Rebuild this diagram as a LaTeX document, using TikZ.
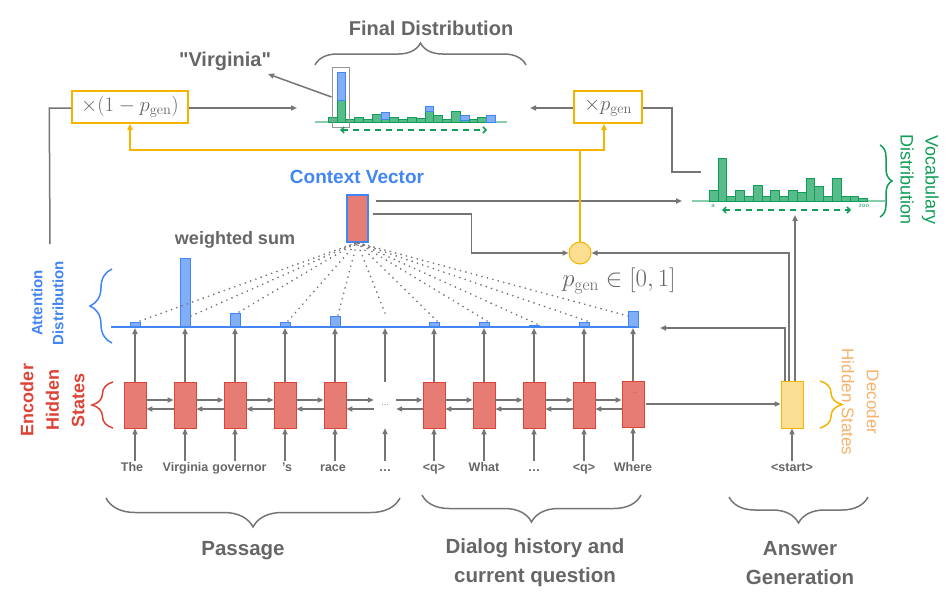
\documentclass[tikz,border=0pt]{standalone}
\usepackage[no-math]{fontspec}
\setmainfont{Liberation Sans}
\newfontfamily\plainquote{Liberation Sans}[Ligatures=TeXOff]
\usetikzlibrary{arrows.meta,decorations.pathreplacing,calc}
\definecolor{tgray}{RGB}{102,102,102}
\definecolor{lgray}{RGB}{117,117,117}
\definecolor{selgray}{RGB}{150,150,150}
\definecolor{encred}{RGB}{230,124,115}
\definecolor{encredb}{RGB}{219,68,55}
\definecolor{gblue}{RGB}{66,133,244}
\definecolor{lblue}{RGB}{130,174,247}
\definecolor{ggreen}{RGB}{15,157,88}
\definecolor{lgreen}{RGB}{87,187,138}
\definecolor{lgreenline}{RGB}{135,206,170}
\definecolor{gyellow}{RGB}{244,180,0}
\definecolor{lyellow}{RGB}{250,222,145}
\definecolor{orangetxt}{RGB}{246,178,107}
\begin{document}
\begin{tikzpicture}[x=1pt,y=-1pt,
  garrow/.style={draw=lgray, line width=1.5pt, -{Triangle[length=6pt,width=5pt]}},
  gline/.style={draw=lgray, line width=1.5pt},
  yline/.style={draw=gyellow, line width=1.5pt},
  yarrow/.style={draw=gyellow, line width=1.5pt, -{Triangle[length=6pt,width=5pt]}},
  encbox/.style={rectangle, draw=encredb, fill=encred, minimum width=22pt, minimum height=46pt, inner sep=0pt, line width=0.8pt},
  decbox/.style={rectangle, draw=gyellow, fill=lyellow, minimum width=22pt, minimum height=47pt, inner sep=0pt, line width=0.8pt},
  cvbox/.style={rectangle, draw=gblue, fill=encred, minimum width=21pt, minimum height=47pt, inner sep=0pt, line width=2pt},
  mbox/.style={rectangle, draw=gyellow, fill=white, line width=1.5pt, minimum height=32pt, inner sep=0pt, text=tgray, font=\fontsize{20}{22}\selectfont},
  word/.style={font=\fontsize{12.5}{15}\selectfont\bfseries, text=tgray, inner sep=1pt, text height=9.5pt, text depth=3pt},
  gtitle/.style={font=\fontsize{20}{23}\selectfont\bfseries, text=tgray, inner sep=1pt},
  btitle/.style={font=\fontsize{20.5}{29}\selectfont\bfseries, text=tgray, inner sep=1pt, align=center},
  abar/.style={draw=gblue, fill=lblue, line width=1pt},
  vbar/.style={draw=ggreen, fill=lgreen, line width=1pt},
  dotl/.style={draw=lgray, line width=1.9pt, dash pattern=on 0pt off 5.6pt, line cap=round},
  gdash/.style={draw=ggreen, line width=1.5pt, dash pattern=on 6pt off 5pt, {Straight Barb[length=3pt,width=6pt]}-{Straight Barb[length=3pt,width=6pt]}},
  mybrace/.style={decorate, decoration={brace, amplitude=#1}, line width=1.5pt},
  tinyg/.style={font=\fontsize{6}{7}\selectfont\bfseries, text=lgreen, inner sep=0pt}
]
\useasboundingbox (0,0) rectangle (949,613);

% ---------------- encoder ----------------
\foreach \i/\x in {0/135,1/185,2/235,3/285,4/335,6/434,7/484,8/534,9/584}
  \node[encbox] (e\i) at (\x,405) {};
\node[encbox] (e10) at (633,404) {};
\node[font=\fontsize{5}{6}\selectfont, text=encredb!70!black, inner sep=0pt] (lastdots) at (635,393) {…};
\node[minimum width=22pt, minimum height=46pt, inner sep=0pt, font=\fontsize{8}{9}\selectfont, text=tgray] (e5) at (385,405) {…};

\foreach \i/\x/\w in {0/132/The,1/185.5/Virginia,2/239.5/governor,3/287/{’s},4/333/race,5/385/{…},6/434/{<q>},7/484/What,8/534/{…},9/584/{<q>},10/633/Where}
  \node[word] (w\i) at (\x,468.5) {\w};
\node[word] (wst) at (792,468.5) {<start>};

\foreach \i [evaluate=\i as \j using int(\i+1)] in {0,...,9} {
  \draw[garrow] ([yshift=5pt]e\i.east) -- ([yshift=5pt]e\i.east -| e\j.west);
  \draw[garrow] ([yshift=-4pt]e\i.east -| e\j.west) -- ([yshift=-4pt]e\i.east);
}
\coordinate (att) at (0,328);
\foreach \i/\x in {0/135,1/185,2/235,3/285,4/335,5/385,6/434,7/484,8/534,9/584,10/633} {
  \draw[garrow] (w\i.north -| e\i.south) -- (e\i.south);
  \draw[garrow] (e\i.north) -- (e\i.north |- att);
}

% ---------------- decoder ----------------
\node[decbox] (dec) at (792,404.5) {};
\draw[garrow] (wst.north) -- (dec.south);
\draw[garrow] ([xshift=2pt]e10.east) -- (e10.east -| dec.west);

% ---------------- attention ----------------
\coordinate (attL) at (111,327);
\coordinate (attR) at (637,327);
\foreach \x/\t in {135/322,185/258,235/313,285/322,335/316,434/322,484/322,534/325,584/322,633/311}
  \draw[abar] (\x-5,327) rectangle (\x+5,\t);
\draw[draw=gblue, line width=2pt] (attL) -- (attR);

% ---------------- context vector ----------------
\node[cvbox] (cv) at (357,218) {};
\node[font=\fontsize{19}{22}\selectfont\bfseries, text=gblue, inner sep=1pt] (cvt) at (357,177) {Context Vector};
\foreach \x/\y in {140/321,191/316,239/312,288/321,338/315,385/313,437/321,487/321,537/324,587/321,628/316}
  \draw[dotl] (\x,\y) -- (cv.south);
\node[gtitle, font=\fontsize{18}{21}\selectfont\bfseries] (ws) at (235,240) {weighted sum};

% ---------------- p_gen ----------------
\node[circle, draw=gyellow, fill=lyellow, minimum size=22pt, inner sep=0pt, line width=1pt] (pg) at (580,253) {};
\node[fill=white, inner sep=2pt, text=tgray, font=\fontsize{27}{30}\selectfont] (pgl) at (619,281) {$p_{\mathrm{gen}}\in[0,1]$};

\coordinate (vin1) at (682,201);
\coordinate (vin2) at (795,215);
\coordinate (attin) at (660,328);
\draw[garrow] ([xshift=7pt,yshift=17pt]cv.east) -- (vin1);
\draw[garrow] ([xshift=4pt,yshift=4pt]cv.east) -- ++(99,0) |- (pg.west);
\draw[garrow] ([xshift=-7pt]dec.north) |- (attin);
\draw[garrow] ([xshift=-3pt]dec.north) |- (pg.east);
\draw[garrow] ([xshift=3pt]dec.north) -- (vin2);

% ---------------- multiply boxes ----------------
\node[mbox, minimum width=116pt] (m1) at (130,107) {$\times(1-p_{\mathrm{gen}})$};
\node[mbox, minimum width=68pt] (mp) at (608,107) {$\times p_{\mathrm{gen}}$};
\coordinate (yj) at (580,150);
\draw[yline] (pg.north) -- (yj);
\draw[yarrow] (yj) -| (m1.south);
\draw[yarrow] (yj) -| ([xshift=-4pt]mp.south);

\coordinate (fin1) at (297,108);
\coordinate (fin2) at (530,108);
\coordinate (vtop) at (701,172);
\coordinate (attout) at (50,244);
\draw[garrow] ([yshift=-1pt]m1.east) -- (fin1);
\draw[garrow] ([yshift=-1pt]mp.west) -- (fin2);
\draw[gline] ([yshift=-1pt]mp.east) -- ++(29,0) |- (vtop);
\draw[gline] ([yshift=-1pt]m1.west) -- ++(-22,0) -- (attout);

% ---------------- final distribution ----------------
\draw[draw=lgreenline, line width=1.5pt] (315,122) -- (507,122);
\foreach \g/\b [count=\i from 0] in {5/0,22/28,3/0,5/0,3/0,8/0,3/7,5/0,3/0,5/0,4/0,11/5,7/0,3/0,11/0,2/5,3/0,5/0,0/7} {
  \ifnum\g>0 \draw[vbar] (328.3+8.8*\i,122) rectangle ++(8.8,-\g); \fi
  \ifnum\b>0 \draw[abar] (328.3+8.8*\i,122-\g) rectangle ++(8.8,-\b); \fi
}
\node[draw=selgray, line width=1pt, minimum width=17pt, minimum height=60pt, inner sep=0pt] (sel) at (340.5,97) {};
\draw[gdash] (340,130) -- (487,130);
\node[gtitle] (fdt) at (431,28) {Final Distribution};
\draw[mybrace=22pt, draw=lgray] (315,65) -- (526,65);
\node[gtitle] (virg) at (225,61) {\plainquote\bfseries "Virginia"};
\coordinate (virgtip) at (268,74);
\draw[garrow] (sel.west) -- (virgtip);

% ---------------- vocabulary distribution ----------------
\draw[draw=lgreenline, line width=1.5pt] (692,201) -- (885,201);
\foreach \h [count=\i from 0] in {10.7,43,5,11,5,16,5,11,5,11,9,23,15,5,23,5,5,3}
  \draw[vbar] (709.3+8.8*\i,201) rectangle ++(8.8,-\h);
\node[tinyg] (lbla) at (713,206) {a};
\node[tinyg] (lblz) at (864,206) {zoo};
\draw[gdash] (722,210) -- (851,210);
\draw[mybrace=12pt, draw=ggreen] (880,145) -- (880,217);
\node[rotate=-90, align=center, text=ggreen, font=\fontsize{18}{25}\selectfont, inner sep=0pt] (vocl) at (919.5,180) {Vocabulary\\Distribution};

% ---------------- side labels ----------------
\draw[mybrace=22pt, draw=gblue] (112,343) -- (112,269);
\node[rotate=90, align=center, text=gblue, font=\fontsize{15}{21}\selectfont\bfseries, inner sep=0pt] (attl) at (47.5,303) {Attention\\Distribution};
\draw[mybrace=21pt, draw=encredb] (113,428) -- (113,382);
\node[rotate=90, align=center, text=encredb, font=\fontsize{18}{25.5}\selectfont\bfseries, inner sep=0pt] (encl) at (52.5,400) {Encoder\\Hidden\\States};
\draw[mybrace=22pt, draw=gyellow] (820,381) -- (820,428);
\node[rotate=-90, align=center, text=orangetxt, font=\fontsize{17}{25}\selectfont, inner sep=0pt] (decl) at (860.5,402) {Decoder\\Hidden States};

% ---------------- bottom braces ----------------
\draw[mybrace=29pt, draw=lgray] (400,498) -- (106,498);
\draw[mybrace=27pt, draw=lgray] (641,495) -- (422,495);
\draw[mybrace=26pt, draw=lgray] (868,497) -- (729,497);
\node[btitle] (tpass) at (243,551) {Passage};
\node[btitle] (tdial) at (535,562.5) {Dialog history and\\current question};
\node[btitle] (tans) at (800,563) {Answer\\Generation};
\end{tikzpicture}
\end{document}
